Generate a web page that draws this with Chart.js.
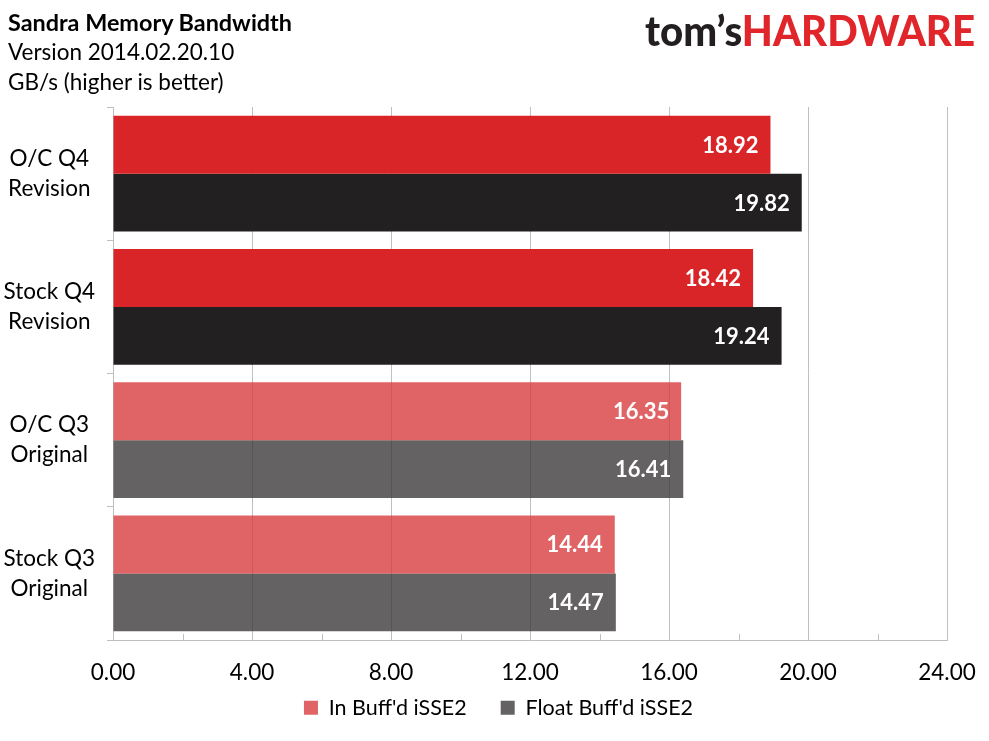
<!DOCTYPE html>
<html><head><meta charset="utf-8">
<script src="https://cdn.jsdelivr.net/npm/chart.js@4.4.1/dist/chart.umd.min.js"></script>
<style>
html,body{margin:0;padding:0;background:#fff;}
#wrap{position:relative;width:989px;height:741px;overflow:hidden;}
#c{position:absolute;left:0;top:0;}
.t{position:absolute;left:8px;font-family:Lato,sans-serif;font-size:22.5px;color:#000;white-space:nowrap;line-height:30px;}
#logo{position:absolute;left:645px;top:6px;font-family:Lato,sans-serif;font-weight:900;font-size:42px;white-space:nowrap;line-height:48px;transform-origin:0 0;}
</style></head>
<body><div id="wrap">
<canvas id="c" width="989" height="741"></canvas>
<div class="t" style="top:7px;font-weight:bold;font-size:23.4px">Sandra Memory Bandwidth</div>
<div class="t" style="top:37px">Version 2014.02.20.10</div>
<div class="t" style="top:67px">GB/s (higher is better)</div>
<div id="logo"><span style="color:#231F20">tom’s</span><span style="color:#E0252B">HARDWARE</span></div>
</div>
<script>
const categories = [["O/C Q4","Revision"],["Stock Q4","Revision"],["O/C Q3","Original"],["Stock Q3","Original"]];
const seriesNames = ["In Buff'd iSSE2","Float Buff'd iSSE2"];
const inBuffValues = [18.92,18.42,16.35,14.44];
const floatBuffValues = [19.82,19.24,16.41,14.47];
const xTicks = [0,4,8,12,16,20,24];
const minorTicks = [2,6,10,14,18,22];
const inBuffColors = ['#DA2528','#DA2528','rgba(216,61,64,0.8)','rgba(216,61,64,0.8)'];
const floatBuffColors = ['#222020','#222020','rgba(61,59,60,0.8)','rgba(61,59,60,0.8)'];
const legendColors = ['#E06466','#646263'];

const FONT = 'Lato, sans-serif';
const gridColor = '#BFBFBF';

const valueLabels = {
  id:'valueLabels',
  afterDatasetsDraw(chart){
    const ctx = chart.ctx;
    ctx.save();
    ctx.font = 'bold 22px ' + FONT;
    ctx.fillStyle = '#fff';
    ctx.textAlign = 'right';
    ctx.textBaseline = 'middle';
    chart.data.datasets.forEach((ds,i)=>{
      chart.getDatasetMeta(i).data.forEach((el,j)=>{
        ctx.fillText(ds.data[j].toFixed(2), el.x - 12, el.y + 1);
      });
    });
    ctx.restore();
  }
};
const minorTickPlugin = {
  id:'minorTicks',
  afterDatasetsDraw(chart){
    const ctx = chart.ctx, sx = chart.scales.x, b = chart.chartArea.bottom;
    ctx.save();
    ctx.strokeStyle = gridColor; ctx.lineWidth = 1;
    minorTicks.forEach(v=>{
      const x = Math.round(sx.getPixelForValue(v)) + 0.5;
      ctx.beginPath(); ctx.moveTo(x, b - 6); ctx.lineTo(x, b); ctx.stroke();
    });
    ctx.restore();
  }
};
// place the legend centred under the page like the reference
const legendPlace = {
  id:'legendPlace',
  afterLayout(chart){
    const lg = chart.legend; if(!lg) return;
    const dx = 498.5 - (lg.left + lg.right) / 2;
    lg.left += dx; lg.right += dx;
    const pad = lg.options.labels.padding;
    lg.top = 697 - pad;
    lg.bottom = chart.height;
    lg.height = lg.bottom - lg.top;
  }
};

new Chart(document.getElementById('c'), {
  type:'bar',
  data:{
    labels: categories,
    datasets:[
      {label: seriesNames[0], data: inBuffValues, backgroundColor: inBuffColors, borderWidth:0},
      {label: seriesNames[1], data: floatBuffValues, backgroundColor: floatBuffColors, borderWidth:0}
    ]
  },
  options:{
    indexAxis:'y',
    responsive:false,
    animation:false,
    devicePixelRatio:1,
    categoryPercentage:0.87,
    barPercentage:1.0,
    layout:{padding:{left:0,right:42,top:107,bottom:11}},
    scales:{
      x:{
        min:0, max:24,
        afterBuildTicks(s){ s.ticks = xTicks.map(v=>({value:v})); },
        afterFit(s){ s.height = 50; },
        grid:{color:gridColor, drawTicks:true, tickLength:17, tickColor:'rgba(0,0,0,0)', lineWidth:1},
        border:{display:true, color:gridColor},
        ticks:{padding:2, color:'#000', font:{family:FONT, size:22.5}, callback:(v)=>Number(v).toFixed(2), maxRotation:0, autoSkip:false}
      },
      y:{
        afterFit(s){ s.width = 113; },
        grid:{drawOnChartArea:false, drawTicks:true, tickLength:6, color:gridColor, offset:true},
        border:{display:true, color:gridColor},
        ticks:{crossAlign:'center', padding:12, color:'#000', font:{family:FONT, size:22.5, lineHeight:1.33}}
      }
    },
    plugins:{
      legend:{
        position:'bottom',
        maxHeight:40,
        labels:{
          boxWidth:14, boxHeight:14, padding:34, color:'#000',
          font:{family:FONT, size:21.5},
          generateLabels(chart){
            return seriesNames.map((n,i)=>({text:n, fillStyle:legendColors[i], strokeStyle:legendColors[i], lineWidth:0, datasetIndex:i, hidden:false}));
          }
        }
      },
      tooltip:{enabled:false}
    }
  },
  plugins:[valueLabels, minorTickPlugin, legendPlace]
});

const logo = document.getElementById('logo');
const w = logo.getBoundingClientRect().width;
logo.style.transform = 'scaleX(' + (330 / w) + ')';
</script>
</body></html>
